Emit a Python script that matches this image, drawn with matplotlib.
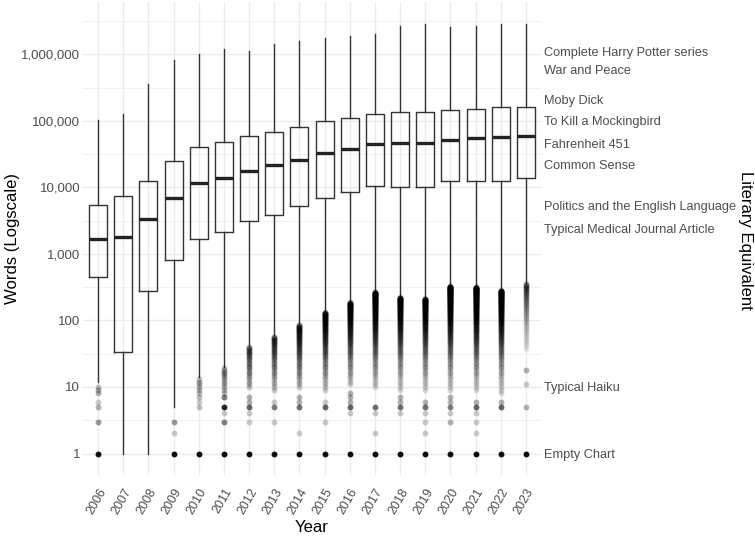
import numpy as np
import matplotlib
matplotlib.use('Agg')
from matplotlib import pyplot as plt
from matplotlib.ticker import FixedLocator, NullLocator

plt.rcParams['font.family'] = ['Liberation Sans', 'DejaVu Sans']

years = list(range(2006, 2024))

# box statistics (words per chart)
q1 = [445, 33, 275, 800, 1660, 2100, 3100, 3900, 5200, 6800,
      8400, 10300, 10000, 10000, 12300, 12300, 12300, 13700]
med = [1700, 1820, 3400, 6800, 11500, 13700, 17400, 22000, 25500, 32500,
       38000, 44500, 47000, 47000, 51000, 55000, 57000, 59000]
q3 = [5370, 7300, 12300, 24600, 40000, 48000, 59000, 69000, 80000, 98000,
      110000, 126000, 135000, 135000, 145000, 148000, 160000, 163000]
whislo = [12, 1, 1, 5, 14, 20, 42, 60, 90, 140,
          190, 270, 230, 220, 330, 320, 290, 370]
whishi = [102000, 126000, 355000, 810000, 1000000, 1200000, 1120000, 1450000,
          1600000, 1740000, 1860000, 2030000, 2640000, 2900000, 2550000,
          2700000, 2900000, 2830000]

# low outliers: a dense run of word counts, plus a few single values
dense_lo = [0, 0, 0, 0, 7, 8, 10, 9, 10, 9, 11, 10, 9, 9, 9, 9, 8, 36]
dense_hi = [0, 0, 0, 0, 13, 19, 40, 57, 85, 132, 186, 265, 222, 213, 325, 315, 282, 360]
dense_alpha = [0, 0, 0, 0, .25, .25, .22, .2, .2, .18,
               .16, .15, .15, .15, .15, .15, .15, .025]
extra_vals = [[10, 9, 8, 6, 5, 3, 1], [], [], [3, 2, 1], [6, 5, 1],
              [7, 5, 4, 3, 1], [7, 6, 5, 4, 3, 1], [6, 5, 3, 1], [7, 6, 5, 2, 1],
              [6, 5, 3, 1], [8, 7, 6, 5, 4, 1], [5, 4, 2, 1], [7, 6, 5, 4, 1],
              [6, 5, 4, 3, 2, 1], [7, 6, 5, 4, 3, 1], [6, 5, 4, 3, 2, 1],
              [6, 5, 1], [18, 11, 5, 1]]
extra_alpha = [[.25, .3, .3, .2, .3, .4, .95], [], [], [.4, .2, .95], [.2, .25, .95],
               [.5, .85, .2, .5, .95], [.3, .3, .6, .2, .2, .95], [.2, .5, .2, .95],
               [.3, .3, .55, .2, .95], [.2, .6, .2, .95], [.3, .3, .3, .6, .2, .95],
               [.55, .2, .2, .95], [.3, .3, .55, .2, .95], [.3, .55, .2, .2, .2, .95],
               [.3, .3, .5, .2, .3, .95], [.3, .6, .2, .2, .2, .95], [.3, .6, .95],
               [.3, .2, .3, .95]]

lit_words = [1084000, 587000, 206000, 100000, 46000, 22000, 5300, 2400, 10, 1]
lit_labels = ['Complete Harry Potter series', 'War and Peace', 'Moby Dick',
              'To Kill a Mockingbird', 'Fahrenheit 451', 'Common Sense',
              'Politics and the English Language', 'Typical Medical Journal Article',
              'Typical Haiku', 'Empty Chart']

major_ticks = [1, 10, 100, 1000, 10000, 100000, 1000000]

fig = plt.figure(figsize=(7.55, 5.36), dpi=100)
ax = fig.add_axes([83 / 755, 1 - 475 / 536, (541 - 83) / 755, (475 - 2) / 536])

pos = np.arange(len(years))
stats = []
for i in range(len(years)):
    stats.append({'med': med[i], 'q1': q1[i], 'q3': q3[i],
                  'whislo': whislo[i], 'whishi': whishi[i], 'fliers': []})

line = dict(color='#333333', linewidth=1.0)
ax.bxp(stats, positions=pos, widths=0.72, showfliers=False, showcaps=False,
       boxprops=line, whiskerprops=line,
       medianprops=dict(color='#222222', linewidth=2.4, solid_capstyle='butt'),
       zorder=2)

for i in range(len(years)):
    if dense_hi[i] > 0:
        vals = np.arange(dense_lo[i], dense_hi[i] + 1)
        ax.scatter(np.full(len(vals), pos[i]), vals, s=18, color='black',
                   alpha=dense_alpha[i], linewidths=0, zorder=3)
    for v, a in zip(extra_vals[i], extra_alpha[i]):
        ax.scatter([pos[i]], [v], s=18, color='black', alpha=a,
                   linewidths=0, zorder=3)

ax.set_yscale('log')
top = np.log10(max(whishi))
ax.set_ylim(10 ** (-0.05 * top), 10 ** (1.05 * top))
ax.set_xlim(-0.6, len(years) - 0.4)

ax.yaxis.set_major_locator(FixedLocator(major_ticks))
ax.yaxis.set_minor_locator(FixedLocator([10 ** (k + 0.5) for k in range(-1, 7)]))
ax.set_yticklabels(['{:,}'.format(t) for t in major_ticks])
ax.set_xticks(pos)
ax.set_xticklabels([str(y) for y in years], rotation=60, ha='right', va='top',
                   rotation_mode='anchor')
ax.tick_params(axis='both', which='both', length=0, labelsize=9.5, labelcolor='#4D4D4D')
ax.tick_params(axis='y', pad=2)
ax.tick_params(axis='x', pad=8, labelsize=9)
ax.grid(True, which='major', color='#EBEBEB', linewidth=1.0)
ax.grid(True, which='minor', axis='y', color='#EBEBEB', linewidth=0.5)
ax.set_axisbelow(True)
for s in ax.spines.values():
    s.set_visible(False)

ax2 = ax.twinx()
ax2.set_yscale('log')
ax2.set_ylim(ax.get_ylim())
ax2.yaxis.set_major_locator(FixedLocator(lit_words))
ax2.yaxis.set_minor_locator(NullLocator())
ax2.set_yticklabels(lit_labels)
ax2.tick_params(axis='y', length=0, pad=2, labelsize=9.2, labelcolor='#4D4D4D')
for s in ax2.spines.values():
    s.set_visible(False)

fig.text(312 / 755, 1 - 527 / 536, 'Year', ha='center', va='center', fontsize=12)
fig.text(13 / 755, 1 - 238 / 536, 'Words (Logscale)', rotation=90,
         ha='center', va='center', fontsize=12)
fig.text(745 / 755, 1 - 240 / 536, 'Literary Equivalent', rotation=270,
         ha='center', va='center', fontsize=12)

fig.savefig('out.png', dpi=100)
